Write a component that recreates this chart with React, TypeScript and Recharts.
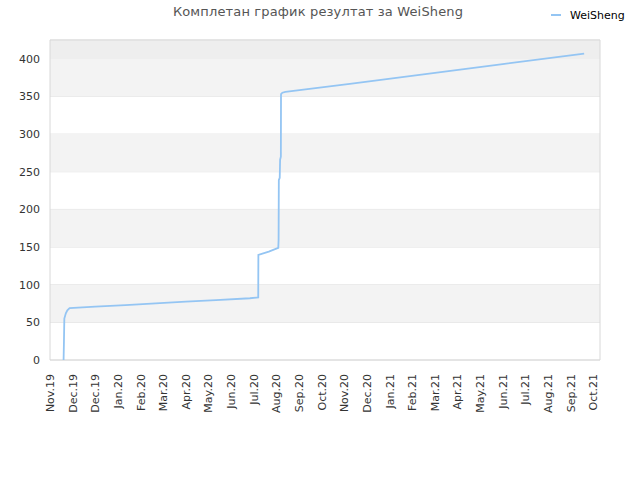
import { LineChart, Line, XAxis, YAxis, CartesianGrid, ReferenceArea } from "recharts";

// days since 1 Nov 2019
const days = [
  18, 18.5, 19, 21, 23, 26, 60, 100, 140, 180, 220, 265, 276, 276.2, 290,
  302.6, 303, 303.3, 304.5, 305, 306, 306.2, 308, 312, 400, 500, 600, 708,
];
const results = [
  0, 25, 55, 62, 66, 69, 70.8, 73, 75.2, 77.4, 79.6, 82, 83, 139.5, 144,
  149, 160, 239, 242, 266, 270, 353, 355, 356, 367, 380, 393, 407,
];

const tickDays = [
  0, 30, 60, 90, 120, 150, 180, 210, 240, 270, 300, 330, 360, 390, 420, 450,
  480, 510, 540, 570, 600, 630, 660, 690, 720,
];
const tickLabels = [
  "Nov.19", "Dec.19", "Dec.19", "Jan.20", "Feb.20", "Mar.20", "Apr.20",
  "May.20", "Jun.20", "Jul.20", "Aug.20", "Sep.20", "Oct.20", "Nov.20",
  "Dec.20", "Jan.21", "Feb.21", "Mar.21", "Apr.21", "May.21", "Jun.21",
  "Jul.21", "Aug.21", "Sep.21", "Oct.21",
];
const yTicks = [0, 50, 100, 150, 200, 250, 300, 350, 400];
const bands = [
  [50, 100],
  [150, 200],
  [250, 300],
  [350, 400],
];

const data = days.map((d, i) => ({ day: d, value: results[i] }));
const FONT = "'DejaVu Sans', sans-serif";
const LINE_COLOR = "#94c5f3";

function XTick({ x, y, payload }: any) {
  const idx = tickDays.indexOf(payload.value);
  return (
    <text
      transform={`translate(${x + 4},${y + 6}) rotate(-90)`}
      textAnchor="end"
      fontSize={11}
      fontFamily={FONT}
      fill="#333"
    >
      {tickLabels[idx]}
    </text>
  );
}

export default function App() {
  return (
    <div style={{ position: "absolute", left: 0, top: 0, width: 640, height: 480 }}>
      <div
        style={{
          position: "absolute",
          top: 4,
          left: 0,
          width: 636,
          textAlign: "center",
          fontFamily: FONT,
          fontSize: 13,
          letterSpacing: 0.15,
          color: "#555",
        }}
      >
        Комплетан график резултат за WeiSheng
      </div>
      <svg width={80} height={16} style={{ position: "absolute", left: 549, top: 7 }}>
        <line x1={2} y1={8} x2={12} y2={8} stroke={LINE_COLOR} strokeWidth={2} />
        <text x={21} y={12} fontSize={11} fontFamily={FONT} fill="#000">
          WeiSheng
        </text>
      </svg>
      <LineChart width={640} height={480} data={data} margin={{ top: 40, right: 40, left: 0, bottom: 0 }}>
        {bands.map(([a, b], i) => (
          <ReferenceArea key={i} x1={0} x2={729} y1={a} y2={b} fill="#f3f3f3" fillOpacity={1} stroke="none" />
        ))}
        <ReferenceArea x1={0} x2={729} y1={400} y2={425} fill="#eeeeee" fillOpacity={1} stroke="none" />
        <CartesianGrid vertical={false} stroke="#e2e2e2" />
        <ReferenceArea x1={0} x2={729} y1={0} y2={425} fill="none" stroke="#d8d8d8" />
        <XAxis
          dataKey="day"
          type="number"
          domain={[0, 729]}
          ticks={tickDays}
          interval={0}
          tick={<XTick />}
          tickLine={false}
          axisLine={false}
          height={120}
        />
        <YAxis
          type="number"
          domain={[0, 425]}
          ticks={yTicks}
          width={50}
          tickLine={false}
          axisLine={false}
          tick={{ fontSize: 11, fontFamily: FONT, fill: "#333" }}
          tickMargin={4}
        />
        <Line
          type="linear"
          dataKey="value"
          stroke={LINE_COLOR}
          strokeWidth={1.8}
          dot={false}
          isAnimationActive={false}
        />
      </LineChart>
    </div>
  );
}
